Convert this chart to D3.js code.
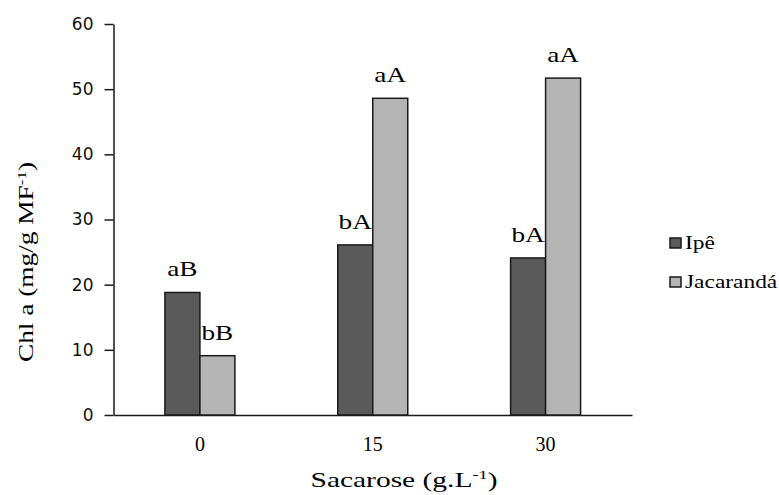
<!DOCTYPE html>
<head>
  <meta charset="utf-8">
  <script src="https://d3js.org/d3.v7.min.js"></script>
  <style>
    body{ margin: 0; background: #fff; }
    text{ font-family: "Liberation Serif", "Times New Roman", serif; fill: #000; }
    .yAxis .tick text{ font-family: "DejaVu Sans", sans-serif; font-size: 17px; fill: #111; }
    .xAxis .tick text{ font-family: "Liberation Serif", serif; font-size: 20px; fill: #000; }
    .domain, .tick line{ stroke: #1a1a1a; stroke-width: 1.5px; }
    text.barLabel{ font-size: 21px; }
    text.legend{ font-size: 18px; }
    text.title{ font-size: 21px; }
  </style>
</head>
<body>
<script>
  // data
  var doses = ["0", "15", "30"];
  var series = ["Ipê", "Jacarandá"];
  var ipe = [18.8, 26.1, 24.1];
  var jacaranda = [9.1, 48.6, 51.7];
  var ipeLetters = ["aB", "bA", "bA"];
  var jacarandaLetters = ["bB", "aA", "aA"];
  var yTicks = [0, 10, 20, 30, 40, 50, 60];
  var colours = ["#5a5a5a", "#b4b4b4"];

  var width = 779, height = 495;

  var svg = d3.select("body").append("svg")
    .attr("width", width)
    .attr("height", height);

  var x = d3.scaleBand()
    .domain(doses)
    .range([113.5, 632])
    .padding(0);

  var barW = 35;
  var x1 = d3.scaleBand()
    .domain(series)
    .range([x.bandwidth()/2 - barW, x.bandwidth()/2 + barW]);

  var y = d3.scaleLinear()
    .domain([0, 60])
    .range([415, 24]);

  // widen text a bit, the reference type is stretched sideways
  function stretch(sel, f){
    sel.each(function(){
      var len = this.getComputedTextLength();
      d3.select(this).attr("textLength", len*f).attr("lengthAdjust", "spacingAndGlyphs");
    });
  }

  // y axis
  svg.append("g")
    .attr("class", "yAxis")
    .attr("transform", "translate(113.5,0)")
    .call(d3.axisLeft(y).tickValues(yTicks).tickSize(9).tickSizeOuter(0).tickPadding(11));

  // x axis, no ticks
  svg.append("g")
    .attr("class", "xAxis")
    .attr("transform", "translate(0,415)")
    .call(d3.axisBottom(x).tickSize(0).tickPadding(22));

  var rows = doses.map(function(d, i){
    return [
      {dose: d, s: series[0], v: ipe[i], lab: ipeLetters[i], c: colours[0]},
      {dose: d, s: series[1], v: jacaranda[i], lab: jacarandaLetters[i], c: colours[1]}
    ];
  });
  var flat = [].concat.apply([], rows);

  svg.selectAll("rect.bar")
    .data(flat)
    .enter()
    .append("rect")
    .attr("class", "bar")
    .attr("x", d => x(d.dose) + x1(d.s))
    .attr("width", x1.bandwidth())
    .attr("y", d => y(d.v))
    .attr("height", d => y(0) - y(d.v))
    .style("fill", d => d.c)
    .style("stroke", "#1a1a1a")
    .style("stroke-width", 1.5);

  svg.selectAll("text.barLabel")
    .data(flat)
    .enter()
    .append("text")
    .attr("class", "barLabel")
    .attr("x", d => x(d.dose) + x1(d.s) + x1.bandwidth()/2)
    .attr("y", d => y(d.v) - 16)
    .style("text-anchor", "middle")
    .text(d => d.lab)
    .call(stretch, 1.3);

  // axis titles
  var yt = svg.append("text")
    .attr("class", "title")
    .attr("transform", "translate(33,262) rotate(-90)")
    .style("text-anchor", "middle");
  yt.append("tspan").text("Chl a (mg/g MF");
  yt.append("tspan").attr("dy", -7).style("font-size", "13px").text("-1");
  yt.append("tspan").attr("dy", 7).text(")");
  yt.attr("textLength", 200).attr("lengthAdjust", "spacingAndGlyphs");

  var xt = svg.append("text")
    .attr("class", "title")
    .attr("x", 404)
    .attr("y", 487)
    .style("text-anchor", "middle");
  xt.append("tspan").text("Sacarose (g.L");
  xt.append("tspan").attr("dy", -8).style("font-size", "13px").text("-1");
  xt.append("tspan").attr("dy", 8).text(")");
  xt.attr("textLength", 187).attr("lengthAdjust", "spacingAndGlyphs");

  // legend
  var legend = svg.selectAll("g.legend")
    .data(series)
    .enter()
    .append("g")
    .attr("transform", (d, i) => "translate(670," + (238 + i*39) + ")");

  legend.append("rect")
    .attr("width", 11)
    .attr("height", 10)
    .style("fill", (d, i) => colours[i])
    .style("stroke", "#1a1a1a")
    .style("stroke-width", 1.5);

  legend.append("text")
    .attr("class", "legend")
    .attr("x", 15)
    .attr("y", 11)
    .text(d => d)
    .call(stretch, 1.3);
</script>
</body>
